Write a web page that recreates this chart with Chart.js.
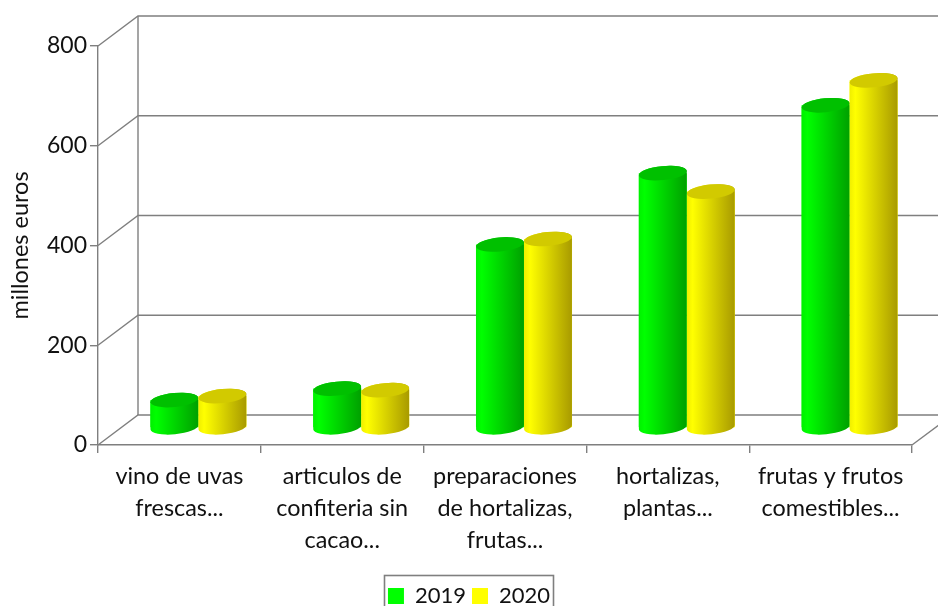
<!DOCTYPE html>
<html><head><meta charset="utf-8">
<style>html,body{margin:0;padding:0;background:#fff;overflow:hidden}#w{width:938px;height:606px}</style>
<script src="https://cdn.jsdelivr.net/npm/chart.js@4"></script></head>
<body><div id="w"><canvas id="c" width="938" height="606"></canvas></div>
<script>
const categories=[["vino de uvas","frescas..."],["articulos de","confiteria sin","cacao..."],["preparaciones","de hortalizas,","frutas..."],["hortalizas,","plantas..."],["frutas y frutos","comestibles..."]];
const values2019=[56,79,368,511,647];
const values2020=[64,76,379,474,697];
const colors2019=["#00ff00","#00f000","#00a000","#00c000"];
const colors2020=["#ffff00","#f0ee00","#a89a00","#d2ca00"];
const tickValues=[0,200,400,600,800];
const FONT="Lato, sans-serif", GRID="#7f7f7f";
const DX=40, DY=-30, BX=19, BY=-17, RY=7, TILT=-5.5*Math.PI/180;
const wall={id:"wall",
afterLayout(ch){const l=ch.legend;l.left+=13;l.right+=13;l.top+=11;l.bottom+=11;},
beforeDatasetsDraw(ch){
  const {ctx,chartArea:a,scales:{y}}=ch;
  ctx.save();ctx.strokeStyle=GRID;ctx.lineWidth=1.4;
  tickValues.forEach(v=>{const p=y.getPixelForValue(v);
    ctx.beginPath();ctx.moveTo(a.left,p);ctx.lineTo(a.left+DX,p+DY);ctx.lineTo(938,p+DY);ctx.stroke();});
  ctx.beginPath();ctx.moveTo(a.left+DX,y.getPixelForValue(0)+DY);ctx.lineTo(a.left+DX,y.getPixelForValue(800)+DY);ctx.stroke();
  ctx.beginPath();ctx.moveTo(a.right,a.bottom);ctx.lineTo(a.right+DX,a.bottom+DY);ctx.stroke();
  ctx.restore();
  ctx.save();ctx.translate(BX,BY);
},afterDatasetsDraw(ch){
  const {ctx}=ch;
  [colors2019,colors2020].forEach((pal,i)=>{
   ch.getDatasetMeta(i).data.forEach(b=>{
    const rx=b.width/2, l=b.x-rx, r=b.x+rx;
    const g=ctx.createLinearGradient(l,0,r,0);
    g.addColorStop(0,pal[1]);g.addColorStop(.12,pal[0]);g.addColorStop(1,pal[2]);
    ctx.beginPath();
    ctx.ellipse(b.x,b.base,rx,RY,TILT,0,Math.PI);
    ctx.ellipse(b.x,b.y,rx,RY,TILT,Math.PI,2*Math.PI);
    ctx.closePath();ctx.fillStyle=g;ctx.fill();
    ctx.beginPath();ctx.ellipse(b.x,b.y,rx,RY,TILT,0,2*Math.PI);ctx.fillStyle=pal[3];ctx.fill();
   });
  });
  ctx.restore();
},
afterDraw(ch){const {ctx}=ch;ctx.save();ctx.strokeStyle=GRID;ctx.lineWidth=1.6;ctx.strokeRect(384.5,575.5,169,40);ctx.restore();}};
new Chart(document.getElementById("c"),{type:"bar",
 data:{labels:categories,datasets:[
  {label:"2019",data:values2019,backgroundColor:colors2019[0],clip:false},
  {label:"2020",data:values2020,backgroundColor:colors2020[0],clip:false}]},
 options:{responsive:false,animation:false,
  layout:{padding:{left:0,right:26,top:46,bottom:0}},
  datasets:{bar:{categoryPercentage:.59,barPercentage:1,borderWidth:0}},
  plugins:{tooltip:{enabled:false},legend:{position:"bottom",labels:{color:"#111",font:{family:FONT,size:22},boxWidth:16,boxHeight:16,padding:6}}},
  scales:{
   x:{afterFit(s){s.height=123},grid:{display:true,drawOnChartArea:false,color:GRID,lineWidth:1.4,tickLength:8,offset:true},border:{color:GRID,width:1.4},
      ticks:{color:"#111",maxRotation:0,autoSkip:false,padding:7,font:{family:FONT,size:23.4,lineHeight:1.37}}},
   y:{min:0,max:800,afterFit(s){s.width=98},afterBuildTicks(s){s.ticks=tickValues.map(v=>({value:v}))},
      grid:{drawOnChartArea:false,color:GRID,lineWidth:1.4,tickLength:8},border:{color:GRID,width:1.4},
      ticks:{color:"#111",padding:3,font:{family:FONT,size:23}},
      title:{display:true,text:"millones euros",color:"#111",font:{family:FONT,size:23.5},padding:{top:6,bottom:0}}}
  }},plugins:[wall]});
</script></body></html>
